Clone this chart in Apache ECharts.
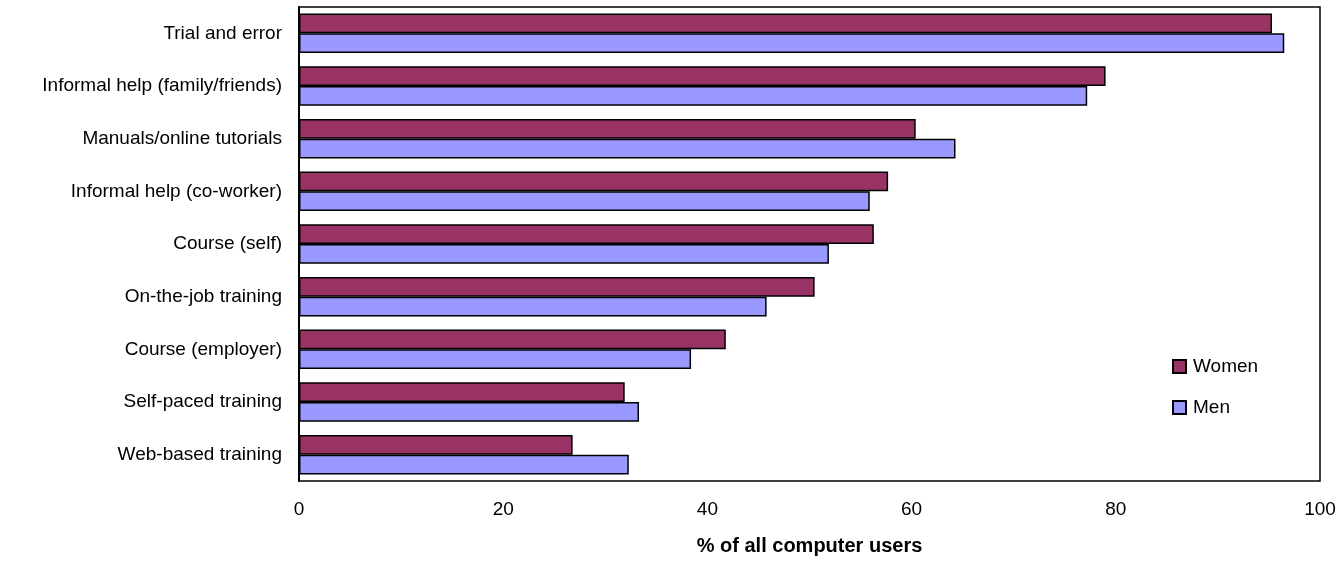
<!DOCTYPE html>
<html>
<head>
<meta charset="utf-8">
<script src="https://cdn.jsdelivr.net/npm/echarts@6/dist/echarts.min.js"></script>
<style>
  html, body { margin: 0; padding: 0; background: #fff; }
  #chart { width: 1344px; height: 561px; }
</style>
</head>
<body>
<div id="chart"></div>
<script>
        // data
        const categories = [
            'Trial and error',
            'Informal help (family/friends)',
            'Manuals/online tutorials',
            'Informal help (co-worker)',
            'Course (self)',
            'On-the-job training',
            'Course (employer)',
            'Self-paced training',
            'Web-based training'
        ];
        const women = [95.3, 79.0, 60.4, 57.7, 56.3, 50.5, 41.8, 31.9, 26.8];
        const men = [96.5, 77.2, 64.3, 55.9, 51.9, 45.8, 38.4, 33.3, 32.3];
        const xTicks = [0, 20, 40, 60, 80, 100];

        const chartDom = document.getElementById('chart');
        const myChart = echarts.init(chartDom);
        const font = 'Liberation Sans, Arial, sans-serif';

        const option = {
            animation: false,
            textStyle: { fontFamily: font },
            legend: {
                orient: 'vertical',
                left: 1167,
                top: 352,
                itemWidth: 13,
                itemHeight: 13,
                itemGap: 22,
                icon: 'rect',
                textStyle: { fontSize: 19, color: '#000', fontFamily: font, padding: [0, 0, 0, 2] },
                data: ['Women', 'Men']
            },
            grid: {
                left: 299,
                right: 24,
                top: 7,
                bottom: 80,
                show: true,
                borderColor: '#000',
                borderWidth: 1.5
            },
            xAxis: {
                type: 'value',
                min: xTicks[0],
                max: xTicks[xTicks.length - 1],
                interval: 20,
                name: '% of all computer users',
                nameLocation: 'middle',
                nameGap: 55,
                nameTextStyle: { fontSize: 20, fontWeight: 'bold', color: '#000', fontFamily: font },
                axisLine: { lineStyle: { color: '#000', width: 2 } },
                axisTick: { inside: true, length: 7, lineStyle: { color: '#000' } },
                axisLabel: { fontSize: 19, color: '#000', margin: 19, fontFamily: font },
                splitLine: { show: false }
            },
            yAxis: {
                type: 'category',
                data: categories,
                inverse: true,
                axisLine: { lineStyle: { color: '#000', width: 2 } },
                axisTick: { show: false },
                axisLabel: { fontSize: 19, color: '#000', margin: 17, fontFamily: font }
            },
            series: [{
                name: 'Women',
                type: 'bar',
                data: women,
                barGap: '0%',
                barCategoryGap: '25%',
                itemStyle: { color: '#993366', borderColor: '#000', borderWidth: 1.5 }
            }, {
                name: 'Men',
                type: 'bar',
                data: men,
                barGap: '0%',
                barCategoryGap: '25%',
                itemStyle: { color: '#9999FF', borderColor: '#000', borderWidth: 1.5 }
            }]
        };

        myChart.setOption(option);

        window.addEventListener('resize', () => {
            myChart.resize();
        });
</script>
</body>
</html>
